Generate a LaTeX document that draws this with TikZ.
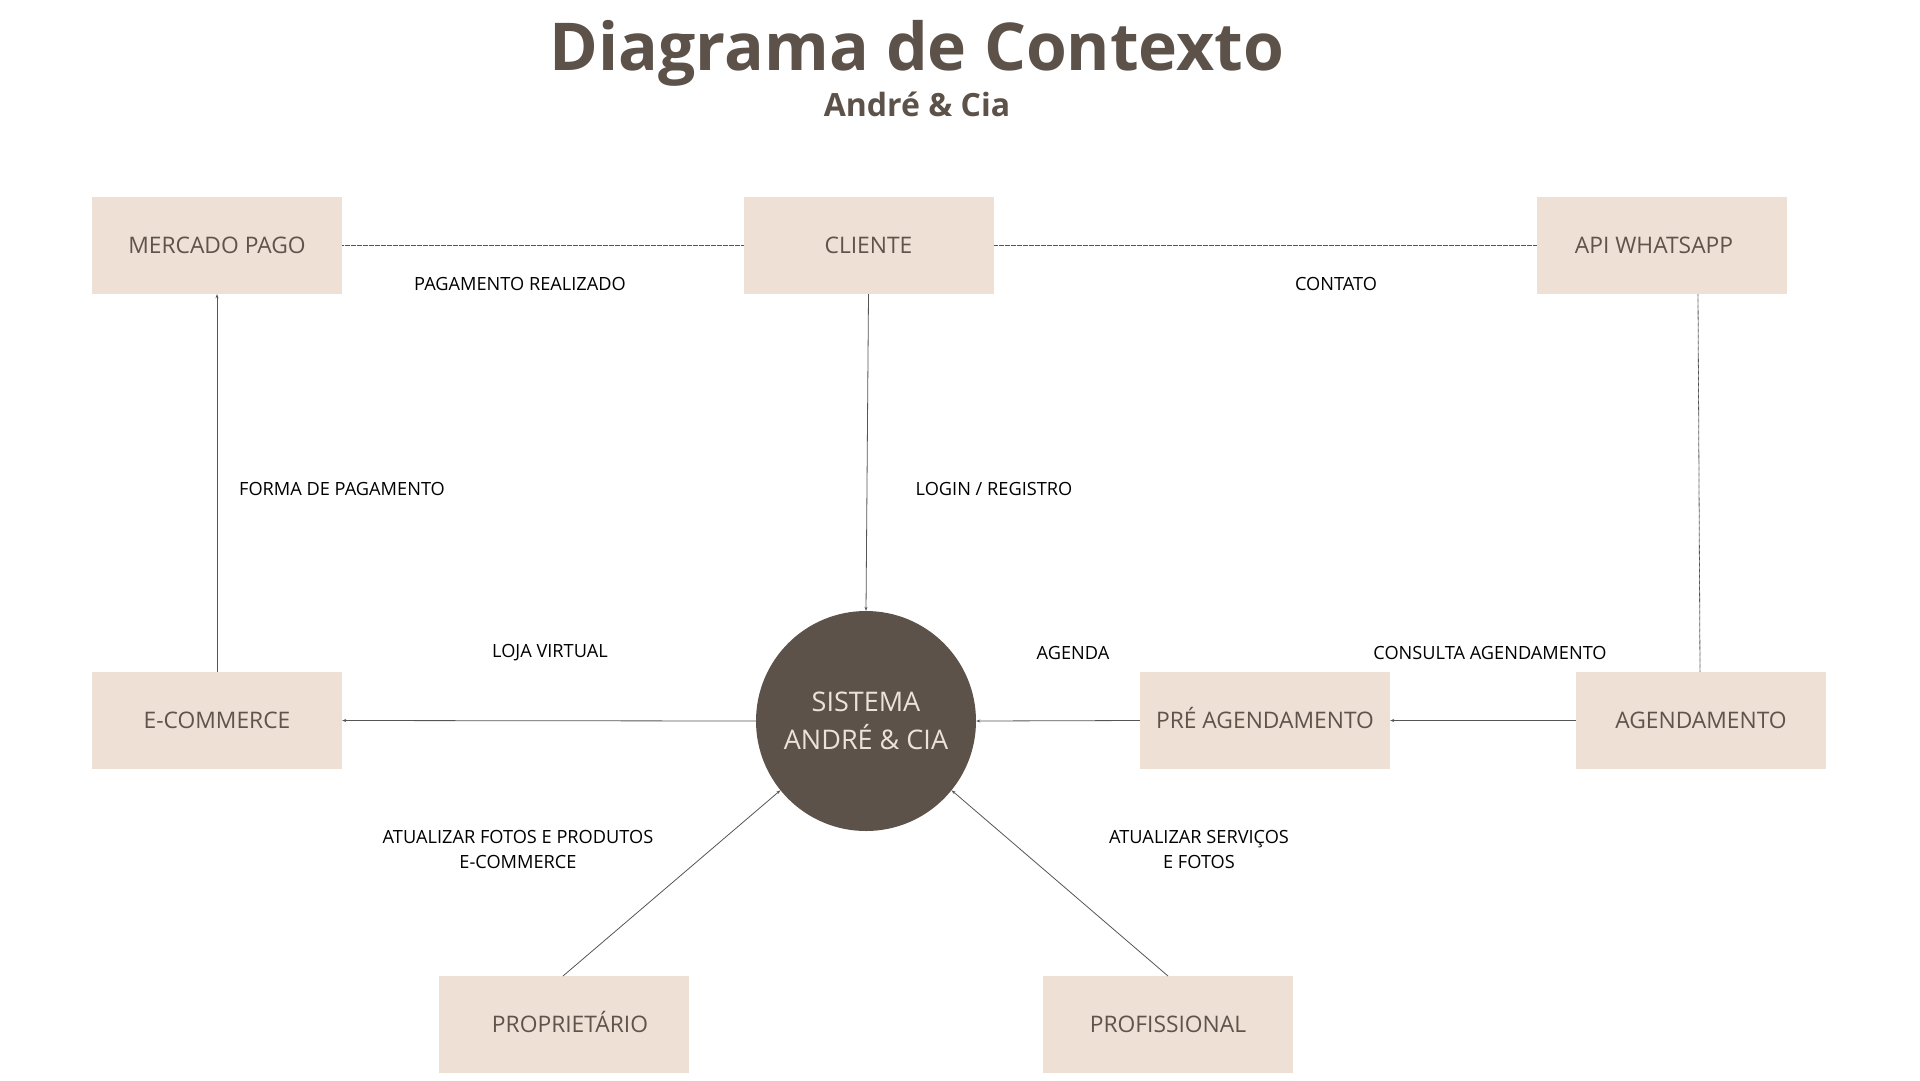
\documentclass[tikz,border=0pt]{standalone}
\usepackage{fontspec}
\setmainfont{Open Sans}
\usetikzlibrary{arrows.meta}
\definecolor{boxfill}{HTML}{EEE0D5}
\definecolor{brownd}{HTML}{5C5249}
\definecolor{boxtext}{HTML}{5E544B}
\definecolor{lightt}{HTML}{EEE2D8}
\definecolor{linec}{HTML}{555555}
\tikzset{
  entity/.style={fill=boxfill, draw=none, minimum width=250pt, minimum height=97pt, inner sep=0pt,
    text=boxtext, font=\fontsize{22.8}{26}\selectfont, text height=18pt, text depth=2pt},
  sysnode/.style={circle, fill=brownd, draw=none, minimum size=220pt, inner sep=0pt, text=lightt,
    align=center, font=\fontsize{27}{38}\selectfont},
  lbl/.style={text=black, align=center, font=\fontsize{18.2}{25}\selectfont, inner sep=0pt},
  flow/.style={draw=linec, line width=0.8pt, -{Stealth[length=4pt,width=3pt]}},
  link/.style={draw=linec, line width=0.8pt, dash pattern=on 0.8pt off 0.4pt},
}
\begin{document}
\begin{tikzpicture}[x=1pt,y=-1pt]
\useasboundingbox (0,0) rectangle (1920,1080);
\fill[white] (0,0) rectangle (1920,1080);
% title
\node[text=brownd, font=\fontsize{66}{76}\bfseries\selectfont, inner sep=0pt] (title) at (917,53) {Diagrama de Contexto};
\node[text=brownd, font=\fontsize{32}{36}\bfseries\selectfont, inner sep=0pt] (sub) at (917,104) {André \& Cia};
% entities
\node[entity] (mp) at (217,245.5) {MERCADO PAGO};
\node[entity] (cli) at (868.5,245.5) {CLIENTE};
\node[entity] (api) at (1662,245.5) {\hspace*{-16pt}API WHATSAPP};
\node[entity] (ecom) at (217,720.5) {E-COMMERCE};
\node[entity] (pre) at (1265,720.5) {PRÉ AGENDAMENTO};
\node[entity] (ag) at (1701,720.5) {AGENDAMENTO};
\node[entity] (prop) at (564,1024.5) {\hspace*{12pt}PROPRIETÁRIO};
\node[entity] (prof) at (1168,1024.5) {PROFISSIONAL};
\node[sysnode] (sys) at (866,721) {SISTEMA\\ANDRÉ \& CIA};
% connectors
\draw[link] (mp.east) -- (cli.west);
\draw[link] (cli.east) -- (api.west);
\draw[link] (api.south -| 1698,0) -- (ag.north -| 1700,0);
\draw[flow] (cli.south) -- (sys.north);
\draw[flow] (ecom.north) -- (mp.south);
\draw[flow] (sys.west) -- (ecom.east);
\draw[flow] (pre.west) -- (sys.east);
\draw[flow] (ag.west) -- (pre.east);
\coordinate (propt) at (563,976);
\coordinate (proft) at (1168,976);
\draw[flow] (propt) -- (sys.219);
\draw[flow] (proft) -- (sys.-39);
% labels
\node[lbl] (l1) at (520,284) {PAGAMENTO REALIZADO};
\node[lbl] (l2) at (1336,284) {CONTATO};
\node[lbl] (l3) at (342,489) {FORMA DE PAGAMENTO};
\node[lbl] (l4) at (994,489) {LOGIN / REGISTRO};
\node[lbl] (l5) at (550,653) {LOJA VIRTUAL};
\node[lbl] (l6) at (1073,653) {AGENDA};
\node[lbl] (l7) at (1490,653) {CONSULTA AGENDAMENTO};
\node[lbl] (l8) at (518,849) {ATUALIZAR FOTOS E PRODUTOS\\E-COMMERCE};
\node[lbl] (l9) at (1199,849) {ATUALIZAR SERVIÇOS\\E FOTOS};
\end{tikzpicture}
\end{document}
